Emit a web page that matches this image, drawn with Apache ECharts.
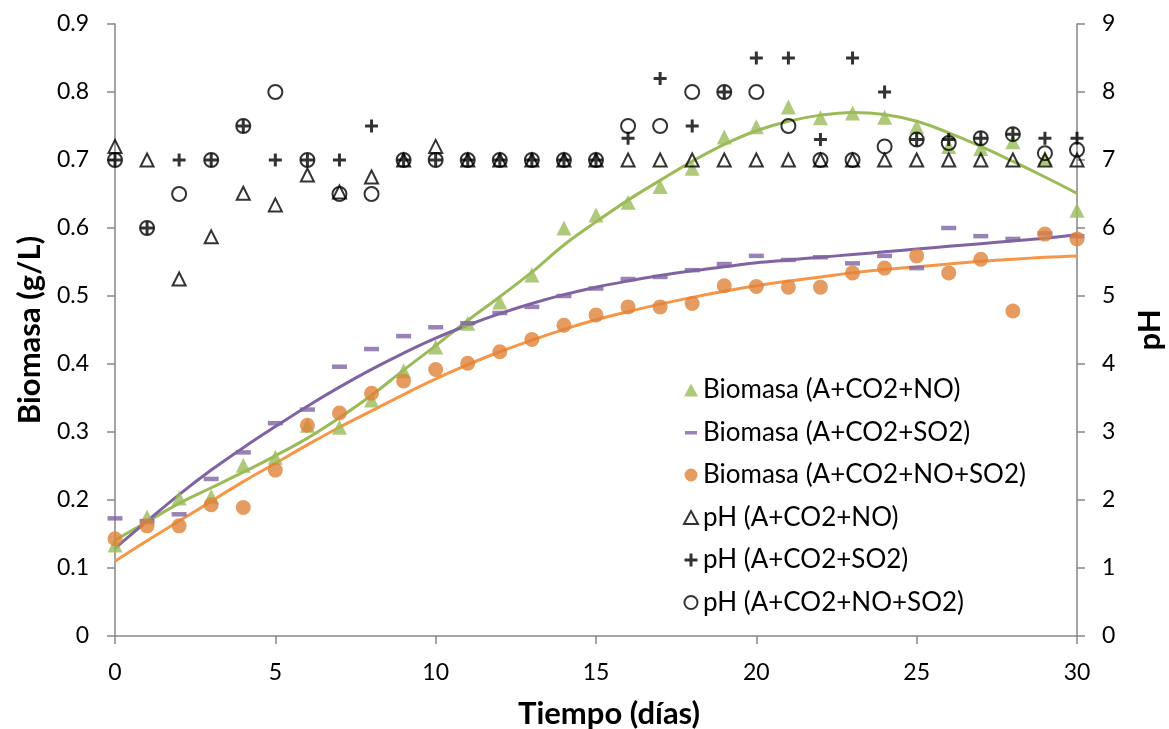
<!DOCTYPE html>
<html>
<head>
<meta charset="utf-8">
<script src="https://cdn.jsdelivr.net/npm/echarts@6/dist/echarts.min.js"></script>
<style>
  html, body { margin: 0; padding: 0; background: #fff; }
  #chart { width: 1169px; height: 729px; }
</style>
</head>
<body>
<div id="chart"></div>
<script>
// días
const days = [0, 1, 2, 3, 4, 5, 6, 7, 8, 9, 10, 11, 12, 13, 14, 15, 16, 17, 18, 19, 20, 21, 22, 23, 24, 25, 26, 27, 28, 29, 30]

// biomasa (g/L)
const bioNO = [0.134, 0.175, 0.203, 0.205, 0.251, 0.263, 0.31, 0.307, 0.347, 0.39, 0.425, 0.46, 0.491, 0.531, 0.6, 0.619, 0.638, 0.661, 0.688, 0.734, 0.749, 0.778, 0.762, 0.769, 0.763, 0.749, 0.72, 0.717, 0.727, 0.703, 0.626]
const bioSO2 = [0.173, 0.169, 0.179, 0.231, 0.27, 0.313, 0.333, 0.396, 0.422, 0.441, 0.454, 0.46, 0.475, 0.484, 0.5, 0.511, 0.525, 0.528, 0.538, 0.547, 0.559, 0.553, 0.557, 0.548, 0.559, 0.541, 0.6, 0.588, 0.584, 0.592, 0.588]
const bioMix = [0.143, 0.162, 0.162, 0.193, 0.189, 0.244, 0.31, 0.328, 0.357, 0.375, 0.392, 0.401, 0.418, 0.436, 0.457, 0.472, 0.484, 0.484, 0.489, 0.515, 0.514, 0.513, 0.513, 0.534, 0.541, 0.559, 0.534, 0.554, 0.478, 0.591, 0.584]

// líneas de tendencia
const trendNO = [0.141, 0.168, 0.195, 0.218, 0.241, 0.265, 0.291, 0.321, 0.354, 0.391, 0.427, 0.464, 0.499, 0.535, 0.575, 0.609, 0.641, 0.67, 0.698, 0.723, 0.743, 0.757, 0.766, 0.77, 0.767, 0.757, 0.74, 0.72, 0.698, 0.675, 0.651]
const trendSO2 = [0.129, 0.169, 0.208, 0.244, 0.277, 0.308, 0.338, 0.366, 0.392, 0.416, 0.438, 0.457, 0.474, 0.489, 0.502, 0.513, 0.522, 0.53, 0.537, 0.543, 0.549, 0.553, 0.557, 0.561, 0.565, 0.569, 0.573, 0.577, 0.581, 0.585, 0.59]
const trendMix = [0.11, 0.14, 0.169, 0.198, 0.227, 0.254, 0.281, 0.307, 0.331, 0.355, 0.378, 0.399, 0.418, 0.435, 0.451, 0.465, 0.477, 0.488, 0.498, 0.507, 0.515, 0.522, 0.528, 0.534, 0.539, 0.543, 0.547, 0.551, 0.554, 0.557, 0.559]

// pH
const phNO = [7.2, 7, 5.25, 5.87, 6.51, 6.34, 6.78, 6.53, 6.75, 7, 7.2, 7, 7, 7, 7, 7, 7, 7, 7, 7, 7, 7, 7, 7, 7, 7, 7, 7, 7, 7, 7]
const phSO2 = [7, 6, 7, 7, 7.5, 7, 7, 7, 7.5, 7, 7, 7, 7, 7, 7, 7, 7.32, 8.2, 7.5, 8, 8.5, 8.5, 7.3, 8.5, 8, 7.3, 7.3, 7.32, 7.38, 7.32, 7.32]
const phMix = [7, 6, 6.5, 7, 7.5, 8, 7, 6.5, 6.5, 7, 7, 7, 7, 7, 7, 7, 7.5, 7.5, 8, 8, 8, 7.5, 7, 7, 7.2, 7.3, 7.25, 7.32, 7.38, 7.1, 7.15]

const names = [
  'Biomasa (A+CO2+NO)',
  'Biomasa (A+CO2+SO2)',
  'Biomasa (A+CO2+NO+SO2)',
  'pH (A+CO2+NO)',
  'pH (A+CO2+SO2)',
  'pH (A+CO2+NO+SO2)'
]

const FONT = 'Lato'
const axisGray = '#868686'
const plusPath = 'path://M5,0h3v5h5v3h-5v5h-3v-5h-5v-3h5z'
// guion fino para la leyenda (las esquinas diminutas fijan el tamaño de la caja)
const dashIcon = 'path://M0,0L0.01,0L0,0.01Z M1,5h12v3.5h-12z M14,13L13.99,13L14,12.99Z'

function pairs(ys) {
  return days.map((d, i) => [d, ys[i]])
}

const chart = echarts.init(document.getElementById('chart'))

const axisCommon = {
  axisLine: { show: true, lineStyle: { color: axisGray, width: 1.5 } },
  axisTick: { show: true, inside: false, length: 8, lineStyle: { color: axisGray, width: 1.5 } },
  splitLine: { show: false },
  axisLabel: { color: '#000', fontFamily: FONT, fontSize: 23 },
  nameLocation: 'middle',
  nameTextStyle: { color: '#000', fontFamily: FONT, fontSize: 31, fontWeight: 'bold' }
}

chart.setOption({
  animation: false,
  backgroundColor: '#fff',
  grid: { left: 115, right: 92, top: 24, bottom: 93, containLabel: false, outerBoundsMode: 'none' },
  legend: {
    data: [
      { name: names[0] },
      { name: names[1], icon: dashIcon },
      { name: names[2] },
      { name: names[3] },
      { name: names[4] },
      { name: names[5] }
    ],
    orient: 'vertical',
    left: 678,
    top: 372,
    itemGap: 16.5,
    itemWidth: 14,
    itemHeight: 13,
    textStyle: { color: '#000', fontFamily: FONT, fontSize: 26 }
  },
  xAxis: Object.assign({}, axisCommon, {
    type: 'value',
    min: 0, max: 30, interval: 5,
    name: 'Tiempo (días)',
    nameGap: 62,
    nameTextStyle: Object.assign({}, axisCommon.nameTextStyle, { padding: [0, 0, 0, 26] }),
    axisLabel: Object.assign({}, axisCommon.axisLabel, { margin: 25 })
  }),
  yAxis: [
    Object.assign({}, axisCommon, {
      type: 'value',
      min: 0, max: 0.9, interval: 0.1,
      name: 'Biomasa (g/L)',
      nameGap: 64,
      nameRotate: 90,
      axisLabel: Object.assign({}, axisCommon.axisLabel, { margin: 26 })
    }),
    Object.assign({}, axisCommon, {
      type: 'value',
      position: 'right',
      min: 0, max: 9, interval: 1,
      name: 'pH',
      nameGap: 57,
      nameRotate: 90,
      axisLabel: Object.assign({}, axisCommon.axisLabel, { margin: 25 })
    })
  ],
  series: [
    // líneas de tendencia
    { type: 'line', data: pairs(trendNO), smooth: 0.4, showSymbol: false, silent: true,
      lineStyle: { color: '#9BBB59', width: 3 }, z: 1 },
    { type: 'line', data: pairs(trendSO2), smooth: 0.4, showSymbol: false, silent: true,
      lineStyle: { color: '#8064A2', width: 3 }, z: 1 },
    { type: 'line', data: pairs(trendMix), smooth: 0.4, showSymbol: false, silent: true,
      lineStyle: { color: '#F79646', width: 3 }, z: 1 },
    // biomasa
    { name: names[0], type: 'scatter', data: pairs(bioNO), symbol: 'triangle', symbolSize: 15,
      itemStyle: { color: '#9BBB59' }, z: 2 },
    { name: names[1], type: 'scatter', data: pairs(bioSO2), symbol: 'rect', symbolSize: [15, 4.5],
      itemStyle: { color: '#8064A2' }, z: 2 },
    { name: names[2], type: 'scatter', data: pairs(bioMix), symbol: 'circle', symbolSize: 15,
      itemStyle: { color: '#E0823A' }, z: 2 },
    // pH
    { name: names[3], type: 'scatter', yAxisIndex: 1, data: pairs(phNO), symbol: 'triangle', symbolSize: 13,
      itemStyle: { color: 'rgba(0,0,0,0)', borderColor: '#000', borderWidth: 2 }, z: 3 },
    { name: names[4], type: 'scatter', yAxisIndex: 1, data: pairs(phSO2), symbol: plusPath, symbolSize: 13,
      itemStyle: { color: '#000' }, z: 3 },
    { name: names[5], type: 'scatter', yAxisIndex: 1, data: pairs(phMix), symbol: 'circle', symbolSize: 14,
      itemStyle: { color: 'rgba(0,0,0,0)', borderColor: '#000', borderWidth: 2 }, z: 3 }
  ]
})
</script>
</body>
</html>
